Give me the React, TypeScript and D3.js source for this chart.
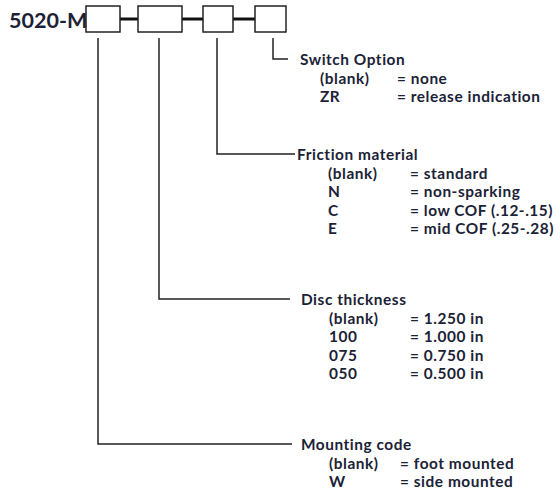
import * as d3 from "d3"

// part number prefix and the option groups, ordered by box (left to right)
const PREFIX = "5020-M"
const GROUPS = ["Mounting code", "Disc thickness", "Friction material", "Switch Option"]
const CODES = [
  ["(blank)", "W"],
  ["(blank)", "100", "075", "050"],
  ["(blank)", "N", "C", "E"],
  ["(blank)", "ZR"],
]
const DESCRIPTIONS = [
  ["= foot mounted", "= side mounted"],
  ["= 1.250 in", "= 1.000 in", "= 0.750 in", "= 0.500 in"],
  ["= standard", "= non-sparking", "= low COF (.12-.15)", "= mid COF (.25-.28)"],
  ["= none", "= release indication"],
]

// layout per box
const BOX_X = [86, 138, 203, 255]
const BOX_W = [34, 44, 30, 31]
const BRANCH_X = [98, 159, 217, 273]
const HEADER_Y = [450, 305, 160, 65]
const LINE_END = [292, 290, 295, 288]
const HEADER_X = [301, 301, 297, 300]
const CODE_X = [329, 329, 328, 320]
const DESC_X = [400, 410, 410, 397]

const W = 560
const H = 503
const BOX_TOP = 6
const BOX_H = 26
const INK = "#1b2236"
const FONT = "Lato, sans-serif"
const SIZE = 15.4

const row = d3.scaleLinear().domain([0, 1]).range([0, 18.6])

export default function App() {
  const midY = BOX_TOP + BOX_H / 2
  return (
    <svg
      width={W}
      height={H}
      style={{ position: "absolute", left: 0, top: 0, background: "#fff" }}
    >
      <text x={9} y={28} fontFamily={FONT} fontWeight={700} fontSize={21.5} fill={INK}>
        {PREFIX}
      </text>

      {BOX_X.slice(0, -1).map((x, i) => (
        <line
          key={"dash" + i}
          x1={x + BOX_W[i]}
          x2={BOX_X[i + 1]}
          y1={midY}
          y2={midY}
          stroke="#111"
          strokeWidth={3}
        />
      ))}

      {BOX_X.map((x, i) => (
        <rect
          key={"box" + i}
          x={x}
          y={BOX_TOP}
          width={BOX_W[i]}
          height={BOX_H}
          fill="#fff"
          stroke="#222"
          strokeWidth={1.5}
        />
      ))}

      {GROUPS.map((g, i) => {
        const cornerY = HEADER_Y[i] - 6
        const path = d3.path()
        path.moveTo(BRANCH_X[i], 38)
        path.lineTo(BRANCH_X[i], cornerY)
        path.lineTo(LINE_END[i], cornerY)
        return (
          <g
            key={g}
            fontFamily={FONT}
            fontWeight={700}
            fontSize={SIZE}
            letterSpacing={0.55}
            fill={INK}
          >
            <path d={path.toString()} fill="none" stroke="#222" strokeWidth={1.5} />
            <text x={HEADER_X[i]} y={HEADER_Y[i]}>
              {g}
            </text>
            {CODES[i].map((c, j) => (
              <g key={c + j}>
                <text x={CODE_X[i]} y={HEADER_Y[i] + row(j + 1)}>
                  {c}
                </text>
                <text x={DESC_X[i]} y={HEADER_Y[i] + row(j + 1)}>
                  {DESCRIPTIONS[i][j]}
                </text>
              </g>
            ))}
          </g>
        )
      })}
    </svg>
  )
}
